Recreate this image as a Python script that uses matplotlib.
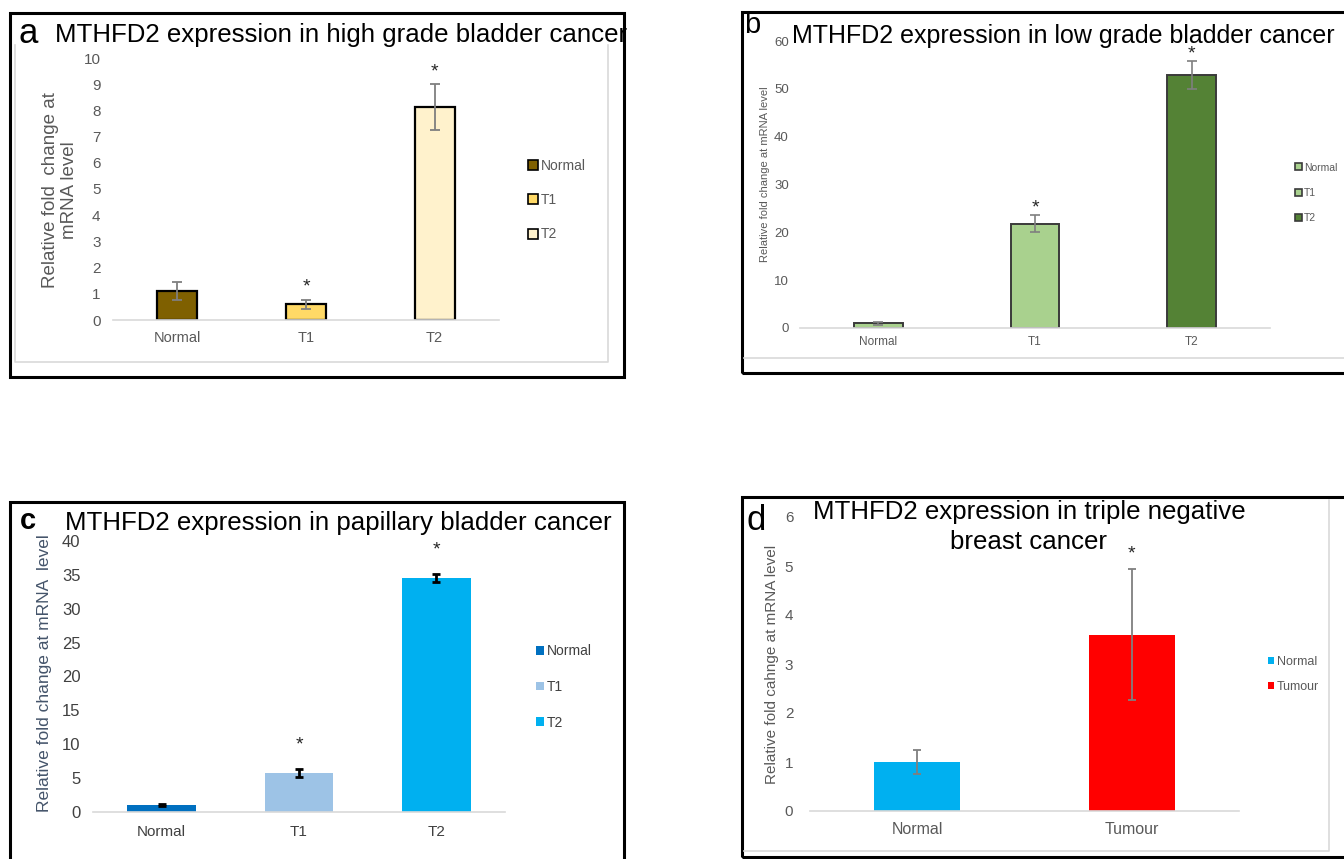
import matplotlib
matplotlib.use("Agg")
import matplotlib.pyplot as plt
from matplotlib.patches import Patch, Rectangle
from matplotlib.lines import Line2D

plt.rcParams['font.family'] = ['Liberation Sans', 'DejaVu Sans']

W, H = 1344, 859

# === Data ===
a_groups = ["Normal", "T1", "T2"]
a_means = [1.1, 0.6, 8.12]
a_err = [0.35, 0.18, 0.88]
a_star = [False, True, True]
a_colors = ["#7f6000", "#ffd966", "#fff2cc"]

b_groups = ["Normal", "T1", "T2"]
b_means = [1.0, 21.8, 52.9]
b_err = [0.3, 1.75, 2.9]
b_star = [False, True, True]
b_colors = ["#a9d18e", "#a9d18e", "#548235"]

c_groups = ["Normal", "T1", "T2"]
c_means = [1.0, 5.8, 34.6]
c_err = [0.15, 0.6, 0.6]
c_star = [False, True, True]
c_colors = ["#0070c0", "#9dc3e6", "#00b0f0"]

d_groups = ["Normal", "Tumour"]
d_means = [1.0, 3.6]
d_err = [0.245, 1.34]
d_star = [False, True]
d_colors = ["#00b0f0", "#ff0000"]


def fx(x):
    return x / W


def fy(y):
    return 1 - y / H


def add_ax(x0, x1, ybot, ytop):
    return fig.add_axes([fx(x0), fy(ybot), (x1 - x0) / W, (ybot - ytop) / H])


def panel(ax, groups, means, err, stars, colors, ymax, ystep, width,
          edge, lw_edge, ecolor, elw, cap, star_off, fs_y, fs_x, pad_y, pad_x,
          tick_color="#595959"):
    xs = list(range(len(groups)))
    ax.bar(xs, means, width=width, color=colors,
           edgecolor=edge if edge else "none", linewidth=lw_edge, zorder=2)
    ax.errorbar(xs, means, yerr=err, fmt="none", ecolor=ecolor,
                elinewidth=elw, capsize=cap, capthick=elw, zorder=3)
    for x, m, e, s in zip(xs, means, err, stars):
        if s:
            ax.annotate("*", xy=(x, m + e), xytext=(0, star_off),
                        textcoords="offset points", ha="center", va="center",
                        fontsize=14, color="#262626")
    ax.set_xlim(-0.5, len(groups) - 0.5)
    ax.set_ylim(0, ymax)
    ax.set_yticks([ystep * i for i in range(int(round(ymax / ystep)) + 1)])
    ax.set_xticks(xs)
    ax.set_xticklabels(groups)
    for sp in ["top", "right", "left"]:
        ax.spines[sp].set_visible(False)
    ax.spines["bottom"].set_color("#d9d9d9")
    ax.spines["bottom"].set_linewidth(1.2)
    ax.tick_params(axis="y", length=0, labelsize=fs_y, pad=pad_y, colors=tick_color)
    ax.tick_params(axis="x", length=0, labelsize=fs_x, pad=pad_x, colors=tick_color)
    ax.patch.set_alpha(0)


def legend(groups, colors, x, ymid, fs, size_px, spacing, edge=None, color="#595959"):
    fs_px = fs * 100 / 72
    hs = [Patch(facecolor=c, edgecolor=edge if edge else c, linewidth=1.2 if edge else 0)
          for c in colors]
    leg = fig.legend(hs, groups, loc="center left", bbox_to_anchor=(fx(x), fy(ymid)),
                     frameon=False, fontsize=fs, borderpad=0, borderaxespad=0,
                     handlelength=size_px / fs_px, handleheight=size_px / fs_px,
                     handletextpad=0.2, labelspacing=spacing, labelcolor=color)
    return leg


fig = plt.figure(figsize=(W / 100, H / 100), dpi=100)

# frames
def frame(x0, y0, x1, y1):
    fig.patches.append(Rectangle((fx(x0), fy(y1)), (x1 - x0) / W, (y1 - y0) / H,
                                 transform=fig.transFigure, fill=False,
                                 edgecolor="black", linewidth=2.2))

def gline(xs, ys):
    fig.lines.append(Line2D([fx(v) for v in xs], [fy(v) for v in ys],
                            transform=fig.transFigure, color="#d9d9d9", linewidth=1.2))

frame(10, 13, 624, 377)
frame(742, 12, 1360, 373)
frame(10, 502, 624, 880)
frame(742, 497, 1360, 857)
gline([15, 15, 608, 608], [45, 362, 362, 45])
gline([744, 1344], [358, 358])
gline([744, 1329, 1329], [851, 851, 500])

TITLE_FS = 18.6

# === Panel a ===
ax = add_ax(113, 499, 320, 58)
panel(ax, a_groups, a_means, a_err, a_star, a_colors, 10, 1, 0.31,
      "black", 1.6, "#7f7f7f", 1.3, 3.5, 9, 11, 10.5, 9, 8)
fig.text(fx(18), fy(43), "a", fontsize=25, va="baseline", ha="left")
fig.text(fx(55), fy(42), "MTHFD2 expression in high grade bladder cancer",
         fontsize=TITLE_FS, va="baseline", ha="left")
fig.text(fx(60), fy(190), "Relative fold  change at\nmRNA level", rotation=90,
         ha="center", va="center", fontsize=13.5, color="#595959", linespacing=1.15)
legend(a_groups, a_colors, 528, 200, 10, 10, 1.47, edge="black")

# === Panel b ===
ax = add_ax(800, 1270, 328, 41)
panel(ax, b_groups, b_means, b_err, b_star, b_colors, 60, 10, 0.31,
      "#3a3a3a", 1.4, "#7f7f7f", 1.2, 3.5, 5, 9.5, 8.5, 8, 6)
fig.text(fx(744), fy(33), "b", fontsize=21, va="baseline", ha="left")
fig.text(fx(792), fy(43), "MTHFD2 expression in low grade bladder cancer",
         fontsize=18.0, va="baseline", ha="left")
fig.text(fx(765), fy(174), "Relative fold change at mRNA level", rotation=90,
         ha="center", va="center", fontsize=8, color="#595959")
legend(b_groups, b_colors, 1295, 193, 7.5, 7, 1.48, edge="#3a3a3a")

# === Panel c ===
ax = add_ax(93, 505, 812, 541)
panel(ax, c_groups, c_means, c_err, c_star, c_colors, 40, 5, 0.5,
      None, 0, "black", 2.0, 3, 17, 12, 11, 9, 9, tick_color="#404040")
fig.text(fx(20), fy(529), "c", fontsize=21, fontweight="bold", va="baseline", ha="left")
fig.text(fx(65), fy(530), "MTHFD2 expression in papillary bladder cancer",
         fontsize=TITLE_FS, va="baseline", ha="left")
fig.text(fx(45), fy(673), "Relative fold change at mRNA  level", rotation=90,
         ha="center", va="center", fontsize=12.5, color="#44546a")
legend(c_groups, c_colors, 536, 687, 10, 8, 1.55, color="#404040")

# === Panel d ===
ax = add_ax(810, 1239, 811, 517)
panel(ax, d_groups, d_means, d_err, d_star, d_colors, 6, 1, 0.4,
      None, 0, "#7f7f7f", 1.3, 3, 11, 11, 11.5, 12, 8)
fig.text(fx(746), fy(530), "d", fontsize=25, va="baseline", ha="left")
fig.text(fx(1029), fy(519), "MTHFD2 expression in triple negative",
         fontsize=TITLE_FS, va="baseline", ha="center")
fig.text(fx(1029), fy(549), "breast cancer", fontsize=TITLE_FS, va="baseline", ha="center")
fig.text(fx(772), fy(664), "Relative fold cahnge at mRNA level", rotation=90,
         ha="center", va="center", fontsize=11, color="#595959")
legend(d_groups, d_colors, 1268, 674.5, 9, 6, 1.04)

fig.savefig("out.png", dpi=100, facecolor="white")
